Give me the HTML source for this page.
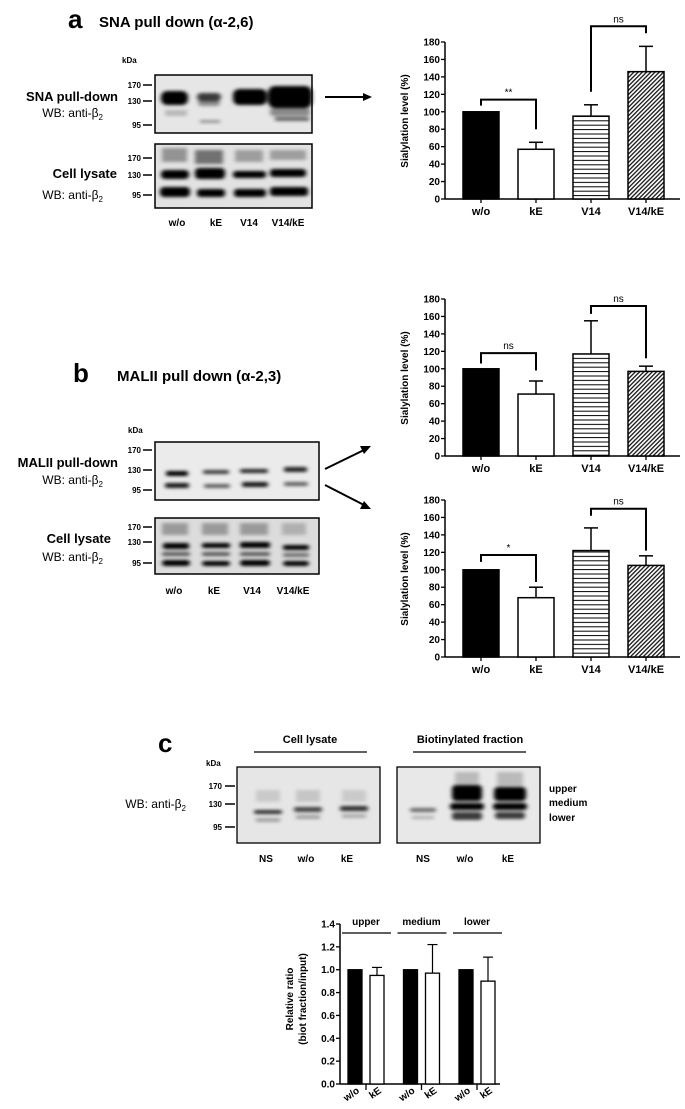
<!DOCTYPE html>
<html><head><meta charset="utf-8"><style>
html,body{margin:0;padding:0;background:#fff}
svg{display:block}
text{font-family:"Liberation Sans",Arial,sans-serif}
.b{font-weight:bold}
</style></head><body>
<svg id="fig" width="685" height="1109" viewBox="0 0 685 1109" xmlns="http://www.w3.org/2000/svg">
<defs>
<filter id="bl" x="-20%" y="-100%" width="140%" height="300%"><feGaussianBlur stdDeviation="2.2 1.6"/></filter>
<pattern id="hz" patternUnits="userSpaceOnUse" width="6" height="4.4"><rect width="6" height="4.4" fill="#fff"/><line x1="0" y1="2" x2="6" y2="2" stroke="#000" stroke-width="1"/></pattern>
<pattern id="dg" patternUnits="userSpaceOnUse" width="3" height="3" patternTransform="rotate(-45)"><rect width="3" height="3" fill="#fff"/><line x1="0" y1="1.2" x2="3" y2="1.2" stroke="#000" stroke-width="1.2"/></pattern>
</defs>

<!-- Panel a -->
<text x="68" y="28" class="b" font-size="26">a</text>
<text x="99" y="27" class="b" font-size="15">SNA pull down (α-2,6)</text>
<text x="122" y="63" class="b" font-size="8">kDa</text>
<g>
<rect x="155" y="75" width="157" height="58" fill="#e6e6e6"/>
<g filter="url(#bl)" fill="#000">
<rect x="161" y="91" width="27" height="14" rx="6"/>
<rect x="197" y="93" width="24" height="8" rx="4" opacity=".75"/>
<rect x="198" y="100" width="22" height="6" rx="3" opacity=".4"/>
<rect x="233" y="89" width="34" height="16" rx="6"/>
<rect x="268" y="86" width="44" height="22" rx="7"/>
<rect x="270" y="108" width="40" height="8" rx="3" opacity=".4"/>
<rect x="200" y="120" width="20" height="3" opacity=".35"/>
<rect x="275" y="117" width="34" height="4" opacity=".55"/>
<rect x="165" y="110" width="22" height="6" opacity=".2"/>
</g>
<rect x="155" y="75" width="157" height="58" fill="none" stroke="#000" stroke-width="1.5"/>
</g>
<g>
<rect x="155" y="144" width="157" height="64" fill="#e2e2e2"/>
<g filter="url(#bl)" fill="#000">
<rect x="162" y="148" width="25" height="14" opacity=".35"/>
<rect x="195" y="150" width="28" height="14" opacity=".5"/>
<rect x="235" y="150" width="28" height="12" opacity=".3"/>
<rect x="270" y="150" width="36" height="10" opacity=".3"/>
<rect x="161" y="170" width="28" height="9" rx="4"/>
<rect x="195" y="168" width="30" height="11" rx="4"/>
<rect x="233" y="171" width="33" height="7" rx="3"/>
<rect x="270" y="169" width="36" height="8" rx="3"/>
<rect x="160" y="187" width="30" height="10" rx="4"/>
<rect x="197" y="189" width="28" height="8" rx="3"/>
<rect x="234" y="189" width="32" height="8" rx="3"/>
<rect x="270" y="187" width="38" height="9" rx="3"/>
</g>
<rect x="155" y="144" width="157" height="64" fill="none" stroke="#000" stroke-width="1.5"/>
</g>
<g font-size="8" class="b" text-anchor="end">
<text x="141" y="88">170</text><line x1="143" y1="85" x2="152" y2="85" stroke="#000" stroke-width="1.5"/>
<text x="141" y="104">130</text><line x1="143" y1="101" x2="152" y2="101" stroke="#000" stroke-width="1.5"/>
<text x="141" y="128">95</text><line x1="143" y1="125" x2="152" y2="125" stroke="#000" stroke-width="1.5"/>
<text x="141" y="161">170</text><line x1="143" y1="158" x2="152" y2="158" stroke="#000" stroke-width="1.5"/>
<text x="141" y="178">130</text><line x1="143" y1="175" x2="152" y2="175" stroke="#000" stroke-width="1.5"/>
<text x="141" y="198">95</text><line x1="143" y1="195" x2="152" y2="195" stroke="#000" stroke-width="1.5"/>
</g>
<g font-size="12" text-anchor="end">
<text x="118" y="101" class="b" font-size="13">SNA pull-down</text>
<text x="103" y="117">WB: anti-β<tspan font-size="8" dy="3">2</tspan></text>
<text x="117" y="178" class="b" font-size="13">Cell lysate</text>
<text x="103" y="199">WB: anti-β<tspan font-size="8" dy="3">2</tspan></text>
</g>
<g font-size="10" class="b" text-anchor="middle">
<text x="177" y="226">w/o</text><text x="216" y="226">kE</text><text x="249" y="226">V14</text><text x="288" y="226">V14/kE</text>
</g>
<g><line x1="325" y1="97" x2="366" y2="97" stroke="#000" stroke-width="2"/><polygon points="372,97 363,93 363,101" fill="#000"/></g>

<!-- Panel b -->
<text x="73" y="382" class="b" font-size="26">b</text>
<text x="117" y="381" class="b" font-size="15">MALII pull down (α-2,3)</text>
<text x="128" y="433" class="b" font-size="8">kDa</text>
<g>
<rect x="155" y="442" width="164" height="58" fill="#ebebeb"/>
<g filter="url(#bl)" fill="#000">
<rect x="166" y="471" width="22" height="5" rx="2"/>
<rect x="203" y="470" width="26" height="4" rx="2" opacity=".75"/>
<rect x="240" y="469" width="28" height="4" rx="2" opacity=".85"/>
<rect x="284" y="467" width="23" height="5" rx="2" opacity=".85"/>
<rect x="165" y="483" width="24" height="5" rx="2" opacity=".9"/>
<rect x="204" y="484" width="26" height="4" rx="2" opacity=".6"/>
<rect x="242" y="482" width="26" height="5" rx="2" opacity=".9"/>
<rect x="284" y="482" width="24" height="4" rx="2" opacity=".6"/>
</g>
<rect x="155" y="442" width="164" height="58" fill="none" stroke="#000" stroke-width="1.5"/>
</g>
<g>
<rect x="155" y="518" width="164" height="56" fill="#dcdcdc"/>
<g filter="url(#bl)" fill="#000">
<rect x="162" y="523" width="26" height="12" opacity=".3"/>
<rect x="202" y="523" width="26" height="12" opacity=".3"/>
<rect x="240" y="523" width="28" height="12" opacity=".3"/>
<rect x="282" y="523" width="24" height="12" opacity=".2"/>
<rect x="163" y="543" width="26" height="6" rx="2"/>
<rect x="202" y="543" width="28" height="5" rx="2"/>
<rect x="240" y="542" width="30" height="6" rx="2"/>
<rect x="283" y="545" width="26" height="5" rx="2"/>
<rect x="162" y="552" width="28" height="4" rx="2" opacity=".6"/>
<rect x="202" y="552" width="28" height="4" rx="2" opacity=".6"/>
<rect x="240" y="552" width="30" height="4" rx="2" opacity=".6"/>
<rect x="283" y="553" width="26" height="4" rx="2" opacity=".5"/>
<rect x="162" y="560" width="28" height="6" rx="3"/>
<rect x="202" y="561" width="28" height="5" rx="3"/>
<rect x="240" y="560" width="30" height="6" rx="3"/>
<rect x="283" y="561" width="26" height="5" rx="3"/>
</g>
<rect x="155" y="518" width="164" height="56" fill="none" stroke="#000" stroke-width="1.5"/>
</g>
<g font-size="8" class="b" text-anchor="end">
<text x="141" y="453">170</text><line x1="143" y1="450" x2="152" y2="450" stroke="#000" stroke-width="1.5"/>
<text x="141" y="473">130</text><line x1="143" y1="470" x2="152" y2="470" stroke="#000" stroke-width="1.5"/>
<text x="141" y="493">95</text><line x1="143" y1="490" x2="152" y2="490" stroke="#000" stroke-width="1.5"/>
<text x="141" y="530">170</text><line x1="143" y1="527" x2="152" y2="527" stroke="#000" stroke-width="1.5"/>
<text x="141" y="545">130</text><line x1="143" y1="542" x2="152" y2="542" stroke="#000" stroke-width="1.5"/>
<text x="141" y="566">95</text><line x1="143" y1="563" x2="152" y2="563" stroke="#000" stroke-width="1.5"/>
</g>
<g font-size="12" text-anchor="end">
<text x="118" y="467" class="b" font-size="13">MALII pull-down</text>
<text x="103" y="484">WB: anti-β<tspan font-size="8" dy="3">2</tspan></text>
<text x="111" y="543" class="b" font-size="13">Cell lysate</text>
<text x="103" y="561">WB: anti-β<tspan font-size="8" dy="3">2</tspan></text>
</g>
<g font-size="10" class="b" text-anchor="middle">
<text x="174" y="594">w/o</text><text x="214" y="594">kE</text><text x="252" y="594">V14</text><text x="293" y="594">V14/kE</text>
</g>
<g>
<line x1="325" y1="469" x2="364" y2="450" stroke="#000" stroke-width="2"/><polygon points="371,446 360,446 364,454" fill="#000"/>
<line x1="325" y1="485" x2="364" y2="505" stroke="#000" stroke-width="2"/><polygon points="371,509 364,501 360,509" fill="#000"/>
</g>

<!-- Panel c -->
<text x="158" y="752" class="b" font-size="26">c</text>
<text x="310" y="743" class="b" font-size="11" text-anchor="middle">Cell lysate</text>
<line x1="254" y1="752" x2="367" y2="752" stroke="#000" stroke-width="1.3"/>
<text x="470" y="743" class="b" font-size="11" text-anchor="middle">Biotinylated fraction</text>
<line x1="413" y1="752" x2="526" y2="752" stroke="#000" stroke-width="1.3"/>
<text x="206" y="766" class="b" font-size="8">kDa</text>
<g>
<rect x="237" y="767" width="143" height="76" fill="#e6e6e6"/>
<g filter="url(#bl)" fill="#000">
<rect x="256" y="790" width="24" height="12" opacity=".12"/>
<rect x="296" y="790" width="24" height="12" opacity=".14"/>
<rect x="342" y="790" width="24" height="12" opacity=".12"/>
<rect x="254" y="810" width="28" height="4" rx="2" opacity=".8"/>
<rect x="294" y="807" width="28" height="5" rx="2" opacity=".7"/>
<rect x="340" y="806" width="28" height="5" rx="2" opacity=".8"/>
<rect x="256" y="818" width="24" height="4" opacity=".3"/>
<rect x="296" y="815" width="24" height="4" opacity=".3"/>
<rect x="342" y="814" width="24" height="4" opacity=".25"/>
</g>
<rect x="237" y="767" width="143" height="76" fill="none" stroke="#000" stroke-width="1.3"/>
</g>
<g>
<rect x="397" y="767" width="143" height="76" fill="#e8e8e8"/>
<g filter="url(#bl)" fill="#000">
<rect x="410" y="808" width="26" height="4" rx="2" opacity=".55"/>
<rect x="412" y="816" width="22" height="3" opacity=".25"/>
<rect x="452" y="785" width="30" height="16" rx="4"/>
<rect x="450" y="803" width="34" height="7" rx="3"/>
<rect x="452" y="812" width="30" height="8" rx="3" opacity=".75"/>
<rect x="494" y="787" width="32" height="14" rx="4"/>
<rect x="493" y="803" width="34" height="7" rx="3"/>
<rect x="495" y="812" width="30" height="7" rx="3" opacity=".75"/>
<rect x="455" y="772" width="24" height="12" opacity=".2"/>
<rect x="497" y="772" width="26" height="14" opacity=".2"/>
</g>
<rect x="397" y="767" width="143" height="76" fill="none" stroke="#000" stroke-width="1.3"/>
</g>
<g font-size="8" class="b" text-anchor="end">
<text x="222" y="789">170</text><line x1="225" y1="786" x2="235" y2="786" stroke="#000" stroke-width="1.5"/>
<text x="222" y="807">130</text><line x1="225" y1="804" x2="235" y2="804" stroke="#000" stroke-width="1.5"/>
<text x="222" y="830">95</text><line x1="225" y1="827" x2="235" y2="827" stroke="#000" stroke-width="1.5"/>
</g>
<text x="186" y="808" font-size="12" text-anchor="end">WB: anti-β<tspan font-size="8" dy="3">2</tspan></text>
<g font-size="10" class="b">
<text x="549" y="792">upper</text><text x="549" y="806">medium</text><text x="549" y="821">lower</text>
</g>
<g font-size="10" class="b" text-anchor="middle">
<text x="266" y="862">NS</text><text x="306" y="862">w/o</text><text x="347" y="862">kE</text>
<text x="423" y="862">NS</text><text x="465" y="862">w/o</text><text x="508" y="862">kE</text>
</g>

<g id="charts"></g>
</svg>
<script>
// ---- chart data ----
const categories = ["w/o","kE","V14","V14/kE"];
const yTicksSial = [0,20,40,60,80,100,120,140,160,180];
const sialA = [100,57,95,146];
const sialAErr = [0,8,13,29];
const sialBTop = [100,71,117,97];
const sialBTopErr = [0,15,38,6];
const sialBBot = [100,68,122,105];
const sialBBotErr = [0,12,26,11];
const groupsC = ["upper","medium","lower"];
const barLabelsC = ["w/o","kE"];
const ratioWo = [1.0,1.0,1.0];
const ratioKE = [0.95,0.97,0.90];
const ratioKEErr = [0.07,0.25,0.21];
const yTicksC = [0.0,0.2,0.4,0.6,0.8,1.0,1.2,1.4];
const sigA = ["**","ns"];
const sigBTop = ["ns","ns"];
const sigBBot = ["*","ns"];
// bracket levels (data units): [top, left-leg end, right-leg end] per comparison
const bracketsA = [[114,107,80],[198,123,190]];
const bracketsBTop = [[118,106,98],[172,163,112]];
const bracketsBBot = [[117,109,86],[170,162,122]];

const NS = "http://www.w3.org/2000/svg";
const root = document.getElementById('charts');
function mk(tag, attrs, parent){
  const e = document.createElementNS(NS, tag);
  for (const k in attrs) e.setAttribute(k, attrs[k]);
  (parent||root).appendChild(e);
  return e;
}
const fills = ["#000","#fff","url(#hz)","url(#dg)"];

function sialChart(name, y0, vals, errs, sig, brk){
  const g = mk('g', {});
  
  
  const ax = 445, yTop = y0 - 157, max = 180;
  const yS = v => y0 - v / max * 157;
  const xS = i => 463 + i * 55;
  const bw = 36;
  const yAx = mk('line', {x1:ax, y1:yTop, x2:ax, y2:y0, stroke:'#000','stroke-width':1.5}, g);
  
  
  const xAx = mk('line', {x1:ax, y1:y0, x2:680, y2:y0, stroke:'#000','stroke-width':1.5}, g);
  
  
  yTicksSial.forEach(t => {
    mk('line', {x1:ax-4, y1:yS(t), x2:ax, y2:yS(t), stroke:'#000','stroke-width':1.3}, g);
    const tx = mk('text', {x:ax-5, y:yS(t)+3.5, 'font-size':10, 'font-weight':'bold', 'text-anchor':'end'}, g);
    
    
    tx.textContent = t;
  });
  const yt = mk('text', {x:0, y:0, 'font-size':10, 'font-weight':'bold', 'text-anchor':'middle', transform:`translate(408 ${y0-78}) rotate(-90)`}, g);
  
  
  yt.textContent = 'Sialylation level (%)';
  vals.forEach((v, i) => {
    const cx = xS(i) + bw/2;
    if (errs[i] > 0) {
      mk('line', {x1:cx, y1:yS(v), x2:cx, y2:yS(v+errs[i]), stroke:'#000','stroke-width':1.5}, g);
      mk('line', {x1:cx-7, y1:yS(v+errs[i]), x2:cx+7, y2:yS(v+errs[i]), stroke:'#000','stroke-width':1.5}, g);
    }
    const r = mk('rect', {x:xS(i), y:yS(v), width:bw, height:y0-yS(v), fill:fills[i], stroke:'#000','stroke-width':1.5}, g);
    
    
    mk('line', {x1:cx, y1:y0, x2:cx, y2:y0+4, stroke:'#000','stroke-width':1.3}, g);
    const lb = mk('text', {x:cx, y:y0+16, 'font-size':11, 'font-weight':'bold', 'text-anchor':'middle'}, g);
    
    
    lb.textContent = categories[i];
  });
  [[0,1],[2,3]].forEach((pr, k) => {
    const ca = xS(pr[0])+bw/2, cb = xS(pr[1])+bw/2;
    const b = brk[k];
    const p = mk('path', {d:`M${ca} ${yS(b[1])} V${yS(b[0])} H${cb} V${yS(b[2])}`, fill:'none', stroke:'#000','stroke-width':2}, g);
    
    
    const st = mk('text', {x:(ca+cb)/2, y:yS(b[0])-4, 'font-size':10, 'text-anchor':'middle'}, g);
    
    
    st.textContent = sig[k];
  });
}
sialChart('chart-a-sialylation', 199, sialA, sialAErr, sigA, bracketsA);
sialChart('chart-b-top-sialylation', 456, sialBTop, sialBTopErr, sigBTop, bracketsBTop);
sialChart('chart-b-bottom-sialylation', 657, sialBBot, sialBBotErr, sigBBot, bracketsBBot);

// chart c
(function(){
  const g = mk('g', {});
  
  
  const ax = 340, y0 = 1084, h = 160, max = 1.4;
  const yS = v => y0 - v / max * h;
  const gx = i => 348 + i * 55.5;
  const bw = 14;
  const yA = mk('line', {x1:ax, y1:yS(max), x2:ax, y2:y0, stroke:'#000','stroke-width':1.5}, g);
  
  
  const xA = mk('line', {x1:ax, y1:y0, x2:500, y2:y0, stroke:'#000','stroke-width':1.5}, g);
  
  
  yTicksC.forEach(t => {
    mk('line', {x1:ax-4, y1:yS(t), x2:ax, y2:yS(t), stroke:'#000','stroke-width':1.3}, g);
    const tx = mk('text', {x:ax-5, y:yS(t)+3.5, 'font-size':10, 'font-weight':'bold', 'text-anchor':'end'}, g);
    
    
    tx.textContent = t.toFixed(1);
  });
  const t1 = mk('text', {x:0, y:0, 'font-size':10, 'font-weight':'bold', 'text-anchor':'middle', transform:`translate(293 ${y0-h/2-5}) rotate(-90)`}, g);
  
  
  t1.textContent = 'Relative ratio';
  const t2 = mk('text', {x:0, y:0, 'font-size':10, 'font-weight':'bold', 'text-anchor':'middle', transform:`translate(306 ${y0-h/2-5}) rotate(-90)`}, g);
  
  
  t2.textContent = '(biot fraction/input)';
  groupsC.forEach((grp, i) => {
    const x1 = gx(i), x2 = gx(i) + 22;
    const r1 = mk('rect', {x:x1, y:yS(ratioWo[i]), width:bw, height:y0-yS(ratioWo[i]), fill:'#000', stroke:'#000','stroke-width':1.3}, g);
    
    
    const top = ratioKE[i] + ratioKEErr[i], cx = x2 + bw/2;
    mk('line', {x1:cx, y1:yS(ratioKE[i]), x2:cx, y2:yS(top), stroke:'#000','stroke-width':1.2}, g);
    mk('line', {x1:cx-5, y1:yS(top), x2:cx+5, y2:yS(top), stroke:'#000','stroke-width':1.2}, g);
    const r2 = mk('rect', {x:x2, y:yS(ratioKE[i]), width:bw, height:y0-yS(ratioKE[i]), fill:'#fff', stroke:'#000','stroke-width':1.3}, g);
    
    
    mk('line', {x1:x1+bw+4, y1:y0, x2:x1+bw+4, y2:y0+6, stroke:'#000','stroke-width':1.3}, g);
    [x1, x2].forEach((bx, j) => {
      const lb = mk('text', {x:0, y:0, 'font-size':10, 'font-weight':'bold', 'text-anchor':'end', transform:`translate(${bx+bw/2+5} ${y0+8}) rotate(-35)`}, g);
      
      
      lb.textContent = barLabelsC[j];
    });
    const gl = mk('text', {x:x1+18, y:yS(max)+1, 'font-size':10, 'font-weight':'bold', 'text-anchor':'middle'}, g);
    
    
    gl.textContent = grp;
    mk('line', {x1:x1-6, y1:yS(max)+9, x2:x2+bw+7, y2:yS(max)+9, stroke:'#000','stroke-width':1.3}, g);
  });
})();
</script>
</body></html>
